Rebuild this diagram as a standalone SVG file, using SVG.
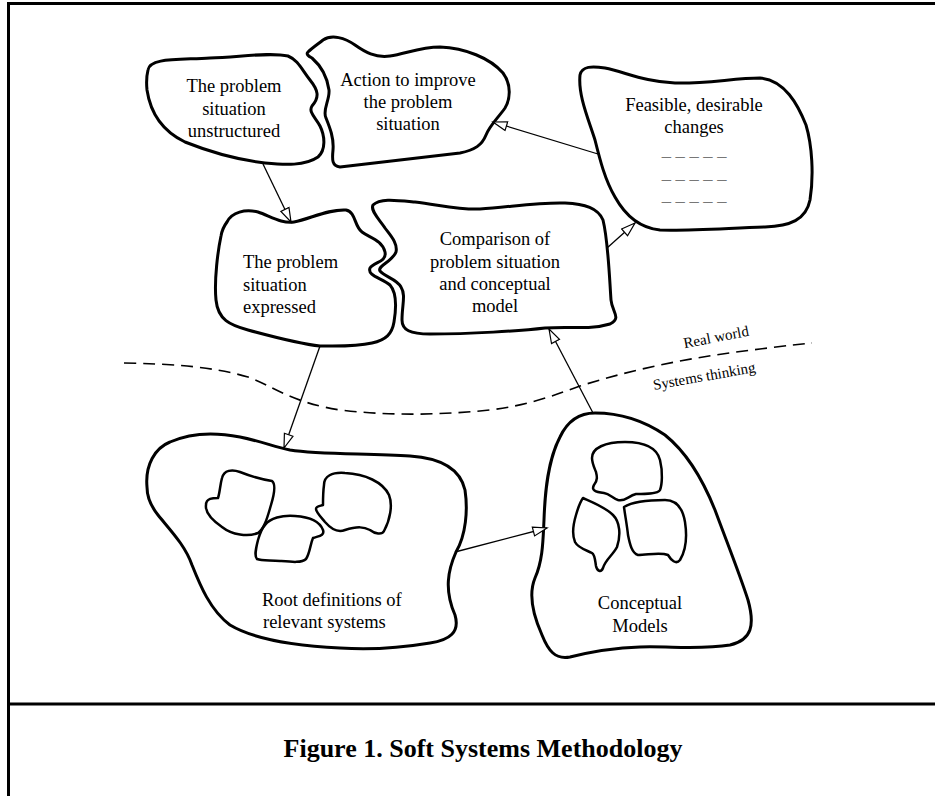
<svg xmlns="http://www.w3.org/2000/svg" width="935" height="796" viewBox="0 0 935 796">
<style>
.n{fill:#fff;stroke:#000;stroke-width:3;stroke-linejoin:round}
.b{fill:none;stroke:#000;stroke-width:2.5;stroke-linejoin:round}
.t{font-family:"Liberation Serif","Times New Roman",serif;font-size:18.5px;fill:#000}
.c{text-anchor:middle}
.d{fill:#777}
.s{font-family:"Liberation Serif","Times New Roman",serif;font-size:15px;fill:#000;text-anchor:middle}
.e{fill:none;stroke:#000;stroke-width:1.3}
</style>
<defs>
<marker id="ah" markerUnits="userSpaceOnUse" markerWidth="18" markerHeight="12" refX="15" refY="5.5" orient="auto">
<path d="M1,1 L15,5.5 L1,10 Z" fill="#fff" stroke="#000" stroke-width="1.2"/>
</marker>
</defs>
<rect width="935" height="796" fill="#fff"/>
<g id="frame" fill="none" stroke="#000" stroke-width="3">
<path d="M8.5,796 V3.5 H935"/>
<path d="M8.5,704 H935"/>
</g>
<g id="divider">
<path d="M124,363 C170,364 210,366 248,377 C275,387 290,402 340,410 C390,416 440,415 490,410 C530,405 555,395 580,386 C640,367 700,356 760,349 C785,346 800,344 812,343" fill="none" stroke="#000" stroke-width="1.6" stroke-dasharray="12,7"/>
<text class="s" transform="translate(717,342) rotate(-11)">Real world</text>
<text class="s" transform="translate(705,381) rotate(-10)">Systems thinking</text>
</g>
<g id="n1">
<path class="n" d="M148,70 C150,58 175,60 210,58 C240,57 270,52 288,56 C298,60 302,70 310,80 C318,90 320,97 312,106 C308,112 316,118 320,126 C325,136 326,150 318,157 C305,166 285,165 265,163 C240,160 210,152 185,142 C160,130 150,110 147,90 C146,80 147,74 148,70 Z"/>
<text class="t c" x="234" y="92">The problem</text>
<text class="t c" x="234" y="115">situation</text>
<text class="t c" x="234" y="137">unstructured</text>
</g>
<g id="n2">
<path class="n" d="M308,52 C312,48 318,44 323,40 C332,34 345,38 355,45 C365,52 375,58 390,56 C405,54 420,47 440,47 C465,48 490,58 503,73 C512,85 510,100 505,108 C498,118 490,125 486,135 C482,145 475,150 460,153 C420,158 380,162 340,167 C332,166 332,160 333,150 C334,138 330,128 326,118 C322,110 330,100 329,90 C327,75 320,65 312,58 C308,56 306,54 308,52 Z"/>
<text class="t c" x="408" y="86">Action to improve</text>
<text class="t c" x="408" y="108">the problem</text>
<text class="t c" x="408" y="130">situation</text>
</g>
<g id="n3">
<path class="n" d="M580,75 C582,66 592,66 605,68 C625,72 645,82 675,83 C705,84 735,78 760,78 C785,80 798,105 806,125 C812,145 814,175 810,200 C806,220 790,226 765,227 C730,228 690,231 660,230 C640,228 625,215 615,197 C605,180 600,160 595,140 C588,118 578,95 580,75 Z"/>
<text class="t c" x="694" y="111">Feasible, desirable</text>
<text class="t c" x="694" y="133">changes</text>
<text class="t c d" x="694" y="156">_ _ _ _ _</text>
<text class="t c d" x="694" y="179">_ _ _ _ _</text>
<text class="t c d" x="694" y="201">_ _ _ _ _</text>
</g>
<g id="n4">
<path class="n" d="M227,222 C232,212 245,209 258,212 C270,216 282,224 294,222 C310,219 328,209 346,210 C356,212 354,226 362,232 C370,238 382,240 385,252 C387,262 374,262 370,268 C367,276 382,278 390,285 C397,293 396,310 394,322 C392,334 386,340 372,343 C355,347 335,346 320,346 C300,344 270,336 248,330 C230,325 218,320 216,300 C214,280 218,250 221,236 C222,230 224,226 227,222 Z"/>
<text class="t" x="243" y="268">The problem</text>
<text class="t" x="243" y="291">situation</text>
<text class="t" x="243" y="313">expressed</text>
</g>
<g id="n5">
<path class="n" d="M373,205 C380,198 395,200 415,202 C440,205 460,210 480,209 C510,207 540,202 565,203 C585,204 598,208 603,220 C608,240 609,270 611,300 C612,312 622,318 610,324 C590,330 570,326 545,328 C520,331 470,334 430,334 C410,334 402,330 402,320 C402,305 406,295 401,287 C397,279 385,277 380,271 C377,266 392,262 396,252 C398,243 390,235 385,228 C380,220 370,211 373,205 Z"/>
<text class="t c" x="495" y="245">Comparison of</text>
<text class="t c" x="495" y="268">problem situation</text>
<text class="t c" x="495" y="290">and conceptual</text>
<text class="t c" x="495" y="312">model</text>
</g>
<g id="n6">
<path class="n" d="M147,487 C145,465 155,448 170,442 C190,433 215,432 240,437 C260,441 275,447 290,450 C320,455 370,453 410,456 C440,458 460,468 465,490 C468,510 466,535 456,552 C448,570 444,590 455,615 C460,632 450,640 430,643 C400,648 370,650 340,648 C300,646 255,640 230,625 C210,610 200,585 192,565 C185,545 170,530 158,515 C150,505 147,495 147,487 Z"/>
<path class="b" d="M222,478 C224,470 232,469 240,472 C250,476 260,479 272,481 C276,484 274,495 271,505 C268,515 265,528 258,533 C248,537 232,535 222,527 C212,520 205,512 206,505 C206,498 213,498 218,498 C220,492 220,485 222,478 Z"/>
<path class="b" d="M324,485 C324,476 332,472 345,473 C365,474 383,482 389,495 C393,505 390,520 384,531 C382,535 375,534 370,530 C364,527 358,526 345,530 C338,533 332,530 325,522 C320,516 316,512 316,509 C316,506 320,506 323,505 C323,498 323,492 324,485 Z"/>
<path class="b" d="M265,525 C270,518 282,515 295,516 C310,517 320,522 323,530 C325,536 318,536 313,538 C310,545 310,553 306,559 C302,563 292,562 280,561 C270,560 262,561 257,559 C254,556 256,548 258,540 C260,533 262,528 265,525 Z"/>
<text class="t" x="262" y="606">Root definitions of</text>
<text class="t" x="263" y="628">relevant systems</text>
</g>
<g id="n7">
<path class="n" d="M560,437 C568,420 580,413 595,413 C615,413 640,418 665,435 C690,455 705,485 715,510 C728,545 740,575 748,600 C755,625 752,640 730,645 C700,650 670,646 640,647 C610,648 590,652 570,657 C555,660 548,650 542,635 C533,615 528,595 535,578 C543,560 543,540 544,520 C545,490 548,460 560,437 Z"/>
<path class="b" d="M592,458 C592,448 605,442 625,442 C645,442 657,448 660,460 C663,472 662,485 660,490 C658,494 645,494 636,494 C628,496 625,502 618,500 C612,498 610,494 604,493 C595,492 591,490 594,485 C598,480 597,476 596,472 C594,467 592,463 592,458 Z"/>
<path class="b" d="M583,498 C592,502 605,507 613,515 C620,522 621,535 617,547 C613,555 605,560 603,568 C601,573 597,571 596,566 C595,560 595,555 592,553 C586,550 578,548 575,542 C572,535 573,525 576,515 C578,508 580,502 583,498 Z"/>
<path class="b" d="M624,507 C632,502 648,500 665,500 C678,500 683,510 685,522 C687,535 686,550 680,560 C676,565 671,560 668,555 C660,552 648,555 638,555 C632,553 630,545 628,535 C627,525 625,515 624,507 Z"/>
<text class="t c" x="640" y="609">Conceptual</text>
<text class="t c" x="640" y="632">Models</text>
</g>
<g id="connectors">
<line class="e" x1="263" y1="164" x2="291" y2="222" marker-end="url(#ah)"/>
<line class="e" x1="598" y1="154" x2="493" y2="122" marker-end="url(#ah)"/>
<line class="e" x1="607" y1="248" x2="635" y2="223" marker-end="url(#ah)"/>
<line class="e" x1="320" y1="346" x2="284" y2="448" marker-end="url(#ah)"/>
<line class="e" x1="593" y1="413" x2="549" y2="329" marker-end="url(#ah)"/>
<line class="e" x1="455" y1="552" x2="547" y2="528" marker-end="url(#ah)"/>
</g>
<g id="caption">
<text x="483" y="757" text-anchor="middle" font-family="'Liberation Serif','Times New Roman',serif" font-size="26" font-weight="bold">Figure 1. Soft Systems Methodology</text>
</g>
</svg>
